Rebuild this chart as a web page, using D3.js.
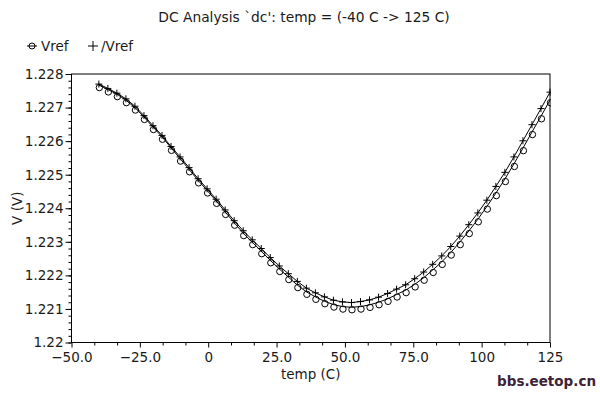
<!DOCTYPE html>
<html>
<head>
<meta charset="utf-8">
<script src="https://cdn.jsdelivr.net/npm/d3@7"></script>
<style>
  body { margin: 0; background: #fff; overflow: hidden; }
  svg { display: block; }
  text { font-family: "DejaVu Sans", sans-serif; fill: #1a1a1a; }
</style>
</head>
<body>
<svg id="chart"></svg>
<script>
// sweep points (temp in C)
var temps = [-40, -36.7, -33.4, -30.1, -26.8, -23.5, -20.2, -16.9, -13.6, -10.3,
  -7, -3.7, -0.4, 2.9, 6.2, 9.5, 12.8, 16.1, 19.4, 22.7,
  26, 29.3, 32.6, 35.9, 39.2, 42.5, 45.8, 49.1, 52.4, 55.7,
  59, 62.3, 65.6, 68.9, 72.2, 75.5, 78.8, 82.1, 85.4, 88.7,
  92, 95.3, 98.6, 101.9, 105.2, 108.5, 111.8, 115.1, 118.4, 121.7, 125];

// Vref (circles)
var vref = [1.22767, 1.22754, 1.22740, 1.22722, 1.22700, 1.22672, 1.22642, 1.22613, 1.22580, 1.22548,
  1.22516, 1.22483, 1.22453, 1.22422, 1.22389, 1.22357, 1.22326, 1.22299, 1.22272, 1.22245,
  1.22219, 1.22195, 1.22171, 1.22151, 1.22136, 1.22123, 1.22113, 1.22107, 1.22105, 1.22107,
  1.22112, 1.22120, 1.22130, 1.22143, 1.22156, 1.22173, 1.22193, 1.22216, 1.22240, 1.22268,
  1.22299, 1.22332, 1.22367, 1.22405, 1.22445, 1.22487, 1.22532, 1.22579, 1.22627, 1.22674, 1.22722];

// /Vref (plus)
var vrefNet = [1.22770, 1.22757, 1.22743, 1.22726, 1.22704, 1.22676, 1.22646, 1.22617, 1.22584, 1.22553,
  1.22521, 1.22488, 1.22458, 1.22427, 1.22395, 1.22363, 1.22333, 1.22306, 1.22280, 1.22253,
  1.22228, 1.22205, 1.22182, 1.22162, 1.22148, 1.22136, 1.22126, 1.22121, 1.22119, 1.22122,
  1.22127, 1.22135, 1.22146, 1.22159, 1.22172, 1.22190, 1.22210, 1.22233, 1.22258, 1.22286,
  1.22317, 1.22351, 1.22386, 1.22424, 1.22465, 1.22507, 1.22553, 1.22601, 1.22649, 1.22697, 1.22746];

var xTicks = [-50, -25, 0, 25, 50, 75, 100, 125];
var xTickLabels = ["\u221250.0", "\u221225.0", "0", "25.0", "50.0", "75.0", "100", "125"];
var yTicks = [1.220, 1.221, 1.222, 1.223, 1.224, 1.225, 1.226, 1.227, 1.228];
var yTickLabels = ["1.22", "1.221", "1.222", "1.223", "1.224", "1.225", "1.226", "1.227", "1.228"];

var width = 600, height = 393;
var margin = { top: 74, right: 50, bottom: 50.5, left: 71.5 };
var innerWidth = width - margin.left - margin.right;
var innerHeight = height - margin.top - margin.bottom;

var svg = d3.select("#chart").attr("width", width).attr("height", height);
svg.append("rect").attr("width", width).attr("height", height).attr("fill", "#fff");

var x = d3.scaleLinear().domain([-50, 125]).range([0, innerWidth]);
var y = d3.scaleLinear().domain([1.220, 1.228]).range([innerHeight, 0]);

var g = svg.append("g").attr("transform", `translate(${margin.left},${margin.top})`);

// minor ticks (3 steps on x, 5 steps on y)
var xMinor = d3.range(-50, 125.01, 25 / 3).filter(function (d) {
  return xTicks.indexOf(Math.round(d * 1000) / 1000) < 0;
});
var yMinor = d3.range(0, 41).map(function (i) { return 1.220 + i * 0.0002; });

g.append("g")
  .attr("transform", `translate(0,${innerHeight})`)
  .call(d3.axisBottom(x).tickValues(xMinor).tickSize(3).tickFormat(""))
  .call(function (s) { s.select(".domain").remove(); s.selectAll("text").remove(); });

g.append("g")
  .call(d3.axisLeft(y).tickValues(yMinor).tickSize(3).tickFormat(""))
  .call(function (s) { s.select(".domain").remove(); s.selectAll("text").remove(); });

var xAxis = g.append("g")
  .attr("transform", `translate(0,${innerHeight})`)
  .call(d3.axisBottom(x).tickValues(xTicks).tickSize(5).tickPadding(5)
    .tickFormat(function (d, i) { return xTickLabels[i]; }));
xAxis.select(".domain").remove();

var yAxis = g.append("g")
  .call(d3.axisLeft(y).tickValues(yTicks).tickSize(6).tickPadding(2)
    .tickFormat(function (d, i) { return yTickLabels[i]; }));
yAxis.select(".domain").remove();

g.selectAll(".tick line").attr("stroke", "#000");
g.selectAll(".tick text")
  .attr("font-family", "DejaVu Sans, sans-serif")
  .attr("font-size", 13.5)
  .attr("fill", "#1a1a1a");

// frame
g.append("rect")
  .attr("width", innerWidth)
  .attr("height", innerHeight)
  .attr("fill", "none")
  .attr("stroke", "#000")
  .attr("stroke-width", 1);

svg.append("clipPath").attr("id", "plot-clip")
  .append("rect").attr("x", -1).attr("y", -1)
  .attr("width", innerWidth + 2).attr("height", innerHeight + 2);

var plot = g.append("g").attr("clip-path", "url(#plot-clip)");

var line = d3.line()
  .x(function (d) { return x(d[0]); })
  .y(function (d) { return y(d[1]); });

var vrefPts = temps.map(function (t, i) { return [t, vref[i]]; });
var netPts = temps.map(function (t, i) { return [t, vrefNet[i]]; });

plot.append("path").datum(vrefPts)
  .attr("d", line).attr("fill", "none").attr("stroke", "#000").attr("stroke-width", 1);
plot.append("path").datum(netPts)
  .attr("d", line).attr("fill", "none").attr("stroke", "#000").attr("stroke-width", 1);

// circle markers sit a little below the trace, like the original plotter
plot.selectAll("circle.m").data(vrefPts).enter()
  .append("circle").attr("class", "m")
  .attr("cx", function (d) { return x(d[0]) + 0.5; })
  .attr("cy", function (d) { return y(d[1]) + 2.5; })
  .attr("r", 3.2)
  .attr("fill", "none").attr("stroke", "#000").attr("stroke-width", 1);

var plusSize = 3.5;
plot.selectAll("path.p").data(netPts).enter()
  .append("path").attr("class", "p")
  .attr("d", function (d) {
    var px = x(d[0]), py = y(d[1]);
    return `M${px - plusSize},${py}H${px + plusSize}M${px},${py - plusSize}V${py + plusSize}`;
  })
  .attr("stroke", "#000").attr("stroke-width", 1);

// title
svg.append("text")
  .attr("x", 304).attr("y", 22)
  .attr("text-anchor", "middle")
  .attr("font-size", 13.8)
  .text("DC Analysis `dc': temp = (-40 C -> 125 C)");

// legend
var legend = svg.append("g").attr("transform", "translate(0,46)");
legend.append("line").attr("x1", 27).attr("x2", 37).attr("y1", 0).attr("y2", 0).attr("stroke", "#000");
legend.append("circle").attr("cx", 32).attr("cy", 0).attr("r", 3)
  .attr("fill", "none").attr("stroke", "#000");
legend.append("text").attr("x", 41).attr("y", 0).attr("dy", "0.35em")
  .attr("font-size", 13.5).text("Vref");
legend.append("path").attr("d", "M88,0H98M93,-5V5").attr("stroke", "#000");
legend.append("text").attr("x", 101).attr("y", 0).attr("dy", "0.35em")
  .attr("font-size", 13.5).text("/Vref");

// axis titles
svg.append("text")
  .attr("x", margin.left + innerWidth / 2).attr("y", 379)
  .attr("text-anchor", "middle")
  .attr("font-size", 13.5)
  .text("temp (C)");

svg.append("text")
  .attr("transform", `translate(22,${margin.top + innerHeight / 2}) rotate(-90)`)
  .attr("text-anchor", "middle")
  .attr("font-size", 13.5)
  .text("V (V)");

// watermark
svg.append("text")
  .attr("x", 596).attr("y", 386)
  .attr("text-anchor", "end")
  .attr("font-family", "DejaVu Sans Condensed, DejaVu Sans, sans-serif")
  .attr("font-weight", "bold")
  .attr("font-size", 13.5)
  .style("fill", "#3d2238")
  .text("bbs.eetop.cn");
</script>
</body>
</html>
